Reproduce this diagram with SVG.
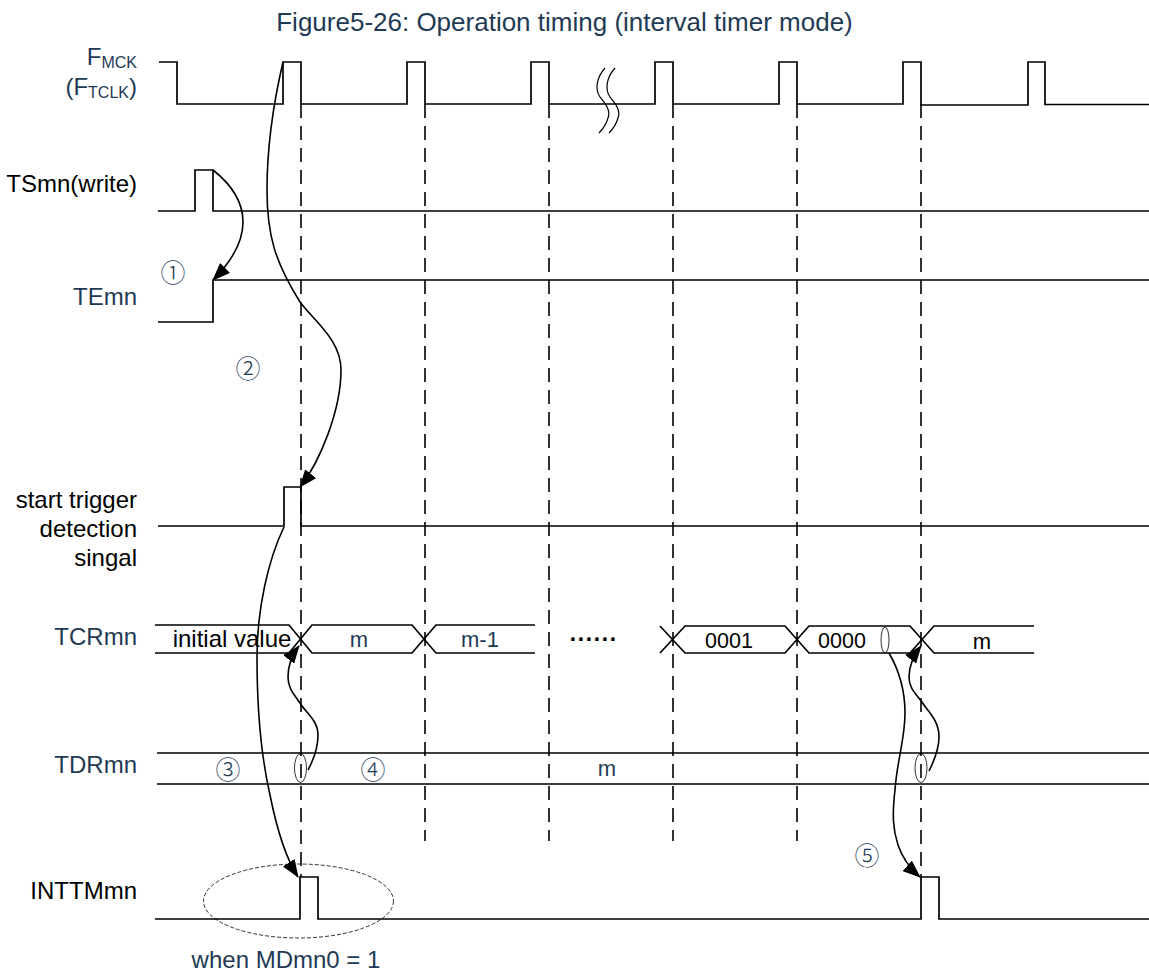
<svg xmlns="http://www.w3.org/2000/svg" width="1149" height="973" viewBox="0 0 1149 973">
<defs>
<marker id="ah" markerUnits="userSpaceOnUse" markerWidth="18" markerHeight="14" refX="17" refY="7" orient="auto"><path d="M0 0L18 7L0 14Z" fill="#000"/></marker>
</defs>
<style>
text{font-family:"Liberation Sans",Arial,sans-serif;font-size:24px;fill:#000}
.b{fill:#1f3a55}
.r{text-anchor:end}
.c{text-anchor:middle}
.v{font-size:22px}
.z{font-size:21.500px}
.n{font-family:"Noto Sans CJK JP",sans-serif;font-size:25px;font-weight:300;fill:#1f3a55;text-anchor:middle}
.w{fill:none;stroke:#000;stroke-width:1.7}
.d{fill:none;stroke:#000;stroke-width:1.6;stroke-dasharray:14 8}
.a{fill:none;stroke:#000;stroke-width:1.6;marker-end:url(#ah)}
.e{fill:none;stroke:#000;stroke-width:.8}
.s{font-size:16px}
</style>
<rect width="1149" height="973" fill="#fff"/>
<text id="title" class="b c" x="564.500" y="31" style="font-size:26px">Figure5-26: Operation timing (interval timer mode)</text>
<g id="connectors">
<g id="guides">
<path class="d" d="M301 104V877"/>
<path class="d" d="M425 104V841"/>
<path class="d" d="M549 104V841"/>
<path class="d" d="M673 104V841"/>
<path class="d" d="M797 104V841"/>
<path class="d" d="M921 104V877"/>
</g>
<path class="a" d="M283 62C273 105 267 150 267 190C267 235 275 262 300 302C315 322 341 340 341 370C341 410 320 462 300 487"/>
<path class="a" d="M213 170C232 185 243 203 243 222C243 245 228 265 213 280"/>
<path class="a" d="M284 527C268 560 257 610 257 657C257 710 262 760 270 795C277 830 287 860 298 877"/>
<path class="a" d="M308 770C315 757 318 746 318 735C318 720 305 712 300 703C292 692 288 687 288 677C288 665 292 655 299 646"/>
<path class="a" d="M929 771C936 757 939 748 939 737C939 720 928 712 922 702C914 692 909 687 909 677C909 665 914 655 921 646"/>
<path class="a" d="M889 653C900 672 905 692 905 713C905 740 897 760 895 790C892 815 893 830 898 845C903 860 912 870 920 877"/>
</g>
<g id="FMCK">
<text class="b r" x="137" y="65">F<tspan class="s" dy="3">MCK</tspan></text>
<text class="b r" x="137" y="95">(F<tspan class="s" dy="3">TCLK</tspan><tspan dy="-3">)</tspan></text>
<path class="w" d="M159 62H177V104H283V62H301V104H407V62H425V104H531V62H549V104H655V62H673V104H779V62H797V104H903V62H921V105H1028V62H1045V104.500H1149"/>
<path class="w" d="M605 68C596 78 595 90 600 97C605 103 611 110 608 118C606 125 602 130 599 133M615 68C606 78 605 90 610 97C615 103 621 110 618 118C616 125 612 130 609 133" style="stroke-width:1.2"/>
</g>
<g id="TSmn">
<text class="r" x="137" y="192">TSmn(write)</text>
<path class="w" d="M158 211H195V170H213V211H1149"/>
</g>
<g id="TEmn">
<text class="b r" x="137" y="305">TEmn</text>
<path class="w" d="M158 322H213V280H1149"/>
<text class="n" x="173" y="282">①</text>
<text class="n" x="248" y="378">②</text>
</g>
<g id="trigger">
<text class="r" x="137" y="508">start trigger</text>
<text class="r" x="137" y="537">detection</text>
<text class="r" x="137" y="566">singal</text>
<path class="w" d="M158 526H284V487H301V526H1149"/>
</g>
<g id="TCRmn">
<text class="b r" x="137" y="645">TCRmn</text>
<path class="w" d="M155 625H289L312 653H412L436 625H535M155 653H289L312 625H412L436 653H535"/>
<path class="w" d="M660 626L685 653H785L809 626H910L934 653H1034M660 653L685 626H785L809 653H910L934 626H1034"/>
<text class="c" x="232" y="647">initial value</text>
<text class="b c v" x="359" y="647">m</text>
<text class="b c v" x="480" y="647">m-1</text>
<text class="c" x="593.500" y="647" style="font-weight:bold">······</text>
<text class="c z" x="729" y="648">0001</text>
<text class="c z" x="842" y="648">0000</text>
<text class="c v" x="982" y="649">m</text>
<ellipse class="e" cx="885" cy="640" rx="4" ry="13"/>
</g>
<g id="TDRmn">
<text class="b r" x="137" y="773">TDRmn</text>
<path class="w" d="M157 753H1149M157 784H1149"/>
<text class="n" x="228" y="779">③</text>
<text class="n" x="373" y="779">④</text>
<text class="b c v" x="607" y="776">m</text>
<ellipse class="e" cx="300.500" cy="768" rx="6" ry="14.500"/>
<ellipse class="e" cx="921" cy="768" rx="6" ry="14.500"/>
</g>
<g id="INTTMmn">
<text class="r" x="137" y="899">INTTMmn</text>
<path class="w" d="M155 919H300V877H318V919H921V877H939V919H1149"/>
<ellipse cx="298.500" cy="901" rx="95" ry="37" fill="none" stroke="#000" stroke-width=".8" stroke-dasharray="4 2"/>
<text class="n" x="867" y="865">⑤</text>
<text class="b c" x="286" y="968">when MDmn0 = 1</text>
</g>
</svg>
